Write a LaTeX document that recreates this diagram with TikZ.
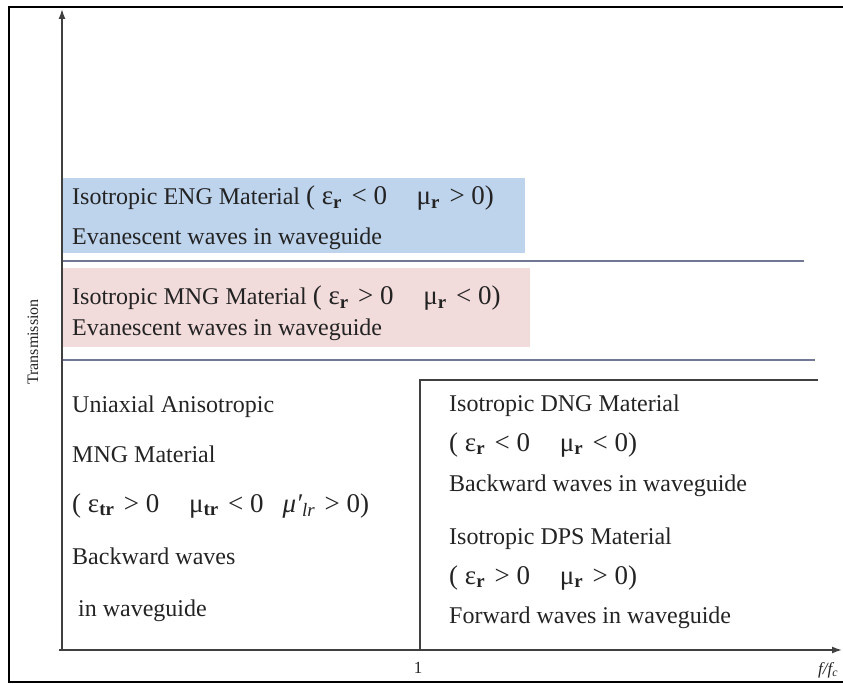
\documentclass[tikz,border=0pt]{standalone}
\usepackage{fontspec}
\setmainfont{Liberation Serif}
\usetikzlibrary{arrows.meta}
\definecolor{engblue}{RGB}{190,211,236}
\definecolor{mngpink}{RGB}{242,219,219}
\definecolor{sepcol}{RGB}{112,120,148}
\definecolor{ink}{RGB}{35,35,35}
\newcommand{\spA}{\hspace{0.25em}}
\newcommand{\spB}{\hspace{0.35em}}
\newcommand{\spG}{\hspace{1.1em}}
\newcommand{\fm}{\fontsize{27}{30}\selectfont}
\newcommand{\cond}[6]{{\fm(\spA #1\textsubscript{\textbf{#2}}\spB #3\spA 0\spG #4\textsubscript{\textbf{#5}}\spB #6\spA 0)}}
\begin{document}
\begin{tikzpicture}[x=1pt,y=-1pt,
  lbl/.style={anchor=base west,inner sep=0pt,font=\fontsize{24}{28}\selectfont,text=ink},
  axisline/.style={line width=1.5pt,draw=black!75},
  sepline/.style={line width=2pt,draw=sepcol},
  shade/.style={anchor=north west,inner sep=0pt,draw=none},
  tip/.style={-{Latex[length=10pt,width=7pt]}}]
\useasboundingbox (0,0) rectangle (843,684);
% outer frame
\draw[line width=2pt,black] (860,7) -- (9,7) -- (9,682) -- (860,682);
% shaded bands
\node[shade,fill=engblue,minimum width=462pt,minimum height=75pt] (engbox) at (63,178) {};
\node[shade,fill=mngpink,minimum width=467pt,minimum height=79pt] (mngbox) at (63,268) {};
% separators
\draw[sepline] (62,261) -- (804,261);
\draw[sepline] (62,360) -- (815,360);
% axes
\coordinate (xs) at (59,650);
\coordinate (xe) at (842,650);
\coordinate (ys) at (62,651);
\coordinate (ye) at (62,9);
\draw[axisline,tip] (xs) -- (xe);
\draw[axisline,tip] (ys) -- (ye);
% step at f/fc = 1
\coordinate (s1) at (420,650);
\coordinate (s2) at (420,380);
\coordinate (s3) at (818,380);
\draw[axisline] (s1) -- (s2) -- (s3);
% axis labels
\node[rotate=90,inner sep=0pt,font=\fontsize{16}{18}\selectfont,text=ink] (ylab) at (33,342) {Transmission};
\node[inner sep=0pt,font=\fontsize{17}{20}\selectfont,text=ink] (one) at (418,668) {1};
\node[anchor=west,inner sep=0pt,font=\itshape\fontsize{17}{20}\selectfont,text=ink] (xlab) at (818,670) {f/f\textsubscript{c}};
% ENG
\node[lbl] (eng1) at (72,205) {Isotropic ENG Material \cond{ε}{r}{<}{μ}{r}{>}};
\node[lbl] (eng2) at (72,245) {Evanescent waves in waveguide};
% MNG
\node[lbl] (mng1) at (72,305) {Isotropic MNG Material \cond{ε}{r}{>}{μ}{r}{<}};
\node[lbl] (mng2) at (72,336) {Evanescent waves in waveguide};
% uniaxial
\node[lbl] (u1) at (72,412) {Uniaxial Anisotropic};
\node[lbl] (u2) at (72,462) {MNG Material};
\node[lbl] (u3) at (72,512) {\fm(\spA ε\textsubscript{\textbf{tr}}\spB >\spA 0\spG μ\textsubscript{\textbf{tr}}\spB <\spA 0\hspace{0.7em}{\itshape μ′}\textsubscript{\itshape lr}\spB >\spA 0)};
\node[lbl] (u4) at (72,564) {Backward waves};
\node[lbl] (u5) at (72,616) {\ in waveguide};
% DNG / DPS
\node[lbl] (d1) at (449,411) {Isotropic DNG Material};
\node[lbl] (d2) at (449,451) {\cond{ε}{r}{<}{μ}{r}{<}};
\node[lbl] (d3) at (449,491) {Backward waves in waveguide};
\node[lbl] (p1) at (449,544) {Isotropic DPS Material};
\node[lbl] (p2) at (449,584) {\cond{ε}{r}{>}{μ}{r}{>}};
\node[lbl] (p3) at (449,623) {Forward waves in waveguide};
\end{tikzpicture}
\end{document}
